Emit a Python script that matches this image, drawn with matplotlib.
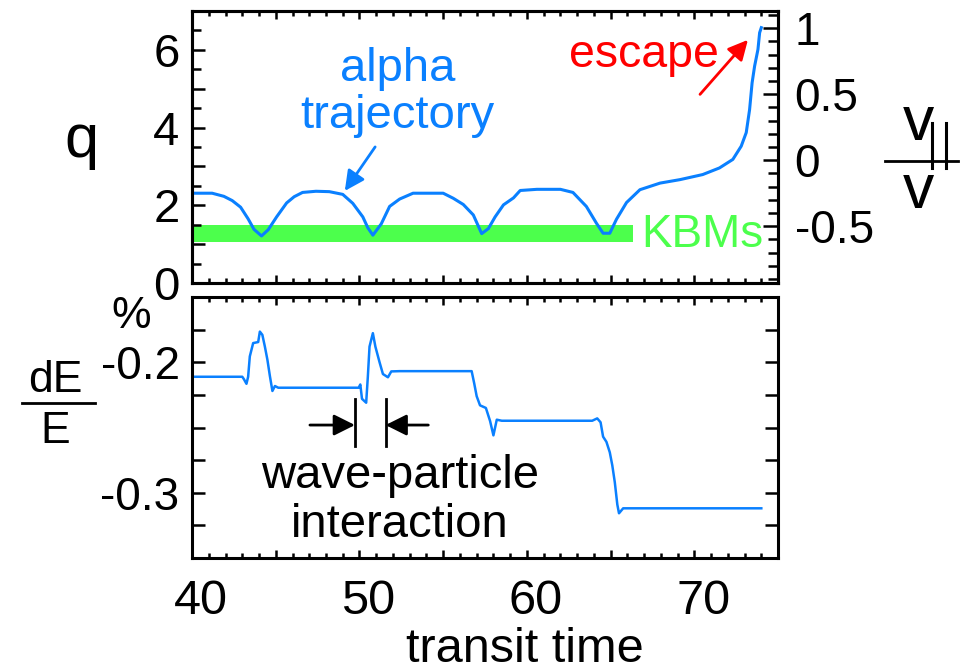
import matplotlib
matplotlib.use("Agg")
import matplotlib.pyplot as plt
from matplotlib.lines import Line2D
from matplotlib.ticker import FuncFormatter, MultipleLocator
from matplotlib.transforms import ScaledTranslation

plt.rcParams["font.family"] = ["Liberation Sans", "DejaVu Sans"]

# alpha trajectory (top panel): transit time vs q
traj_t = [40.0, 41.2, 41.9, 42.4, 42.9, 43.35, 43.7, 44.15, 44.55, 45.05, 45.65,
          46.1, 46.6, 47.4, 48.2, 49.0, 49.6, 50.2, 50.5, 50.8, 51.3, 51.8, 52.4,
          53.2, 55.0, 55.6, 56.2, 56.8, 57.3, 57.7, 58.1, 58.6, 59.2, 59.6, 60.6,
          62.0, 62.75, 63.55, 64.15, 64.55, 64.95, 65.35, 65.95, 66.75, 67.95,
          69.15, 70.5, 71.5, 72.3, 72.8, 73.1, 73.3, 73.45, 73.6, 73.8, 73.9, 74.0]
traj_q = [2.31, 2.31, 2.23, 2.12, 1.95, 1.65, 1.38, 1.21, 1.37, 1.70, 2.06,
          2.22, 2.33, 2.36, 2.35, 2.28, 2.05, 1.70, 1.42, 1.23, 1.52, 1.97, 2.16,
          2.31, 2.31, 2.18, 2.02, 1.75, 1.27, 1.40, 1.70, 2.01, 2.19, 2.38, 2.41,
          2.41, 2.33, 1.97, 1.54, 1.28, 1.28, 1.64, 2.07, 2.40, 2.57,
          2.66, 2.79, 2.96, 3.18, 3.52, 3.87, 4.46, 5.15, 5.58, 6.01, 6.44, 6.57]

# KBM band
kbm_t = [40.0, 66.35]
kbm_lo = 1.05
kbm_hi = 1.50

# energy change dE/E (%) (bottom panel)
de_t = [40.0, 43.0, 43.1, 43.25, 43.35, 43.45, 43.65, 43.95, 44.05, 44.2, 44.35,
        44.5, 44.65, 44.8, 44.95, 45.15, 49.95, 50.05, 50.15, 50.4, 50.5, 50.6,
        50.8, 50.95, 51.2, 51.4, 51.7, 51.9, 52.4, 56.7, 56.85, 57.0, 57.2, 57.55,
        57.8, 58.0, 58.2, 58.5, 63.9, 64.2, 64.4, 64.55, 64.75, 64.95, 65.1,
        65.25, 65.4, 65.5, 65.75, 74.0]
de_val = [-0.2111, -0.2111, -0.2130, -0.2165, -0.2111, -0.1955, -0.1853, -0.1845,
          -0.1765, -0.1790, -0.1880, -0.1980, -0.2106, -0.2220, -0.2182, -0.2195,
          -0.2195, -0.2170, -0.2280, -0.2310, -0.2110, -0.1880, -0.1777, -0.1880,
          -0.2000, -0.2090, -0.2115, -0.2070, -0.2068, -0.2068, -0.2160, -0.2260,
          -0.2330, -0.2350, -0.2450, -0.2560, -0.2440, -0.2448, -0.2448, -0.2430,
          -0.2460, -0.2570, -0.2610, -0.2690, -0.2790, -0.2920, -0.3090, -0.3157,
          -0.3119, -0.3119]

# wave-particle interaction markers
wpi_bars = [49.73, 51.56]
wpi_bar_y = (-0.2283, -0.2640)
wpi_arrow_y = -0.2481
wpi_tails = [47.04, 54.11]

blue = "#0a80ff"
green = "#4cff4c"

fig = plt.figure(figsize=(9.67, 6.72), dpi=100)
ax_q = fig.add_axes([0.1986, 0.5789, 0.606, 0.4048])
ax_e = fig.add_axes([0.1986, 0.1696, 0.606, 0.3884])


def style(ax):
    for s in ax.spines.values():
        s.set_linewidth(2.2)
    ax.set_xlim(40, 75)
    ax.xaxis.set_major_locator(MultipleLocator(5))
    ax.xaxis.set_minor_locator(MultipleLocator(1))
    ax.xaxis.set_major_formatter(FuncFormatter(lambda v, p: f"{v:.0f}" if round(v) % 10 == 0 else ""))
    ax.tick_params(axis="x", which="both", direction="in", top=True, bottom=True, width=1.8)
    ax.tick_params(axis="x", which="major", length=6)
    ax.tick_params(axis="x", which="minor", length=3.3)


# ---- top panel
style(ax_q)
ax_q.fill_between(kbm_t, kbm_lo, kbm_hi, color=green, lw=0, zorder=1)
ax_q.plot(traj_t, traj_q, color=blue, lw=2.2, zorder=3)
ax_q.set_ylim(0, 7)
ax_q.yaxis.set_major_locator(MultipleLocator(1))
ax_q.yaxis.set_minor_locator(MultipleLocator(0.5))
ax_q.yaxis.set_major_formatter(FuncFormatter(lambda v, p: f"{v:.0f}" if round(v) % 2 == 0 else ""))
ax_q.tick_params(axis="y", which="both", direction="in", left=True, right=False, width=1.8,
                 labelsize=34, pad=9)
ax_q.tick_params(axis="y", which="major", length=9.5)
ax_q.tick_params(axis="y", which="minor", length=6.5)
ax_q.tick_params(axis="x", labelbottom=False)

ax_r = ax_q.twinx()
ax_r.set_ylim(-0.93, 1.13)
ax_r.yaxis.set_major_locator(MultipleLocator(0.5))
ax_r.yaxis.set_minor_locator(MultipleLocator(0.1))
ax_r.yaxis.set_major_formatter(FuncFormatter(lambda v, p: f"{v:g}"))
ax_r.tick_params(axis="y", which="both", direction="in", width=1.8, labelsize=33, pad=12)
ax_r.tick_params(axis="y", which="major", length=11)
ax_r.tick_params(axis="y", which="minor", length=7)
for s in ax_r.spines.values():
    s.set_linewidth(2.2)

ax_q.text(52.27, 5.19, "alpha", color=blue, fontsize=34, ha="center", va="baseline")
ax_q.text(52.27, 3.99, "trajectory", color=blue, fontsize=34, ha="center", va="baseline")
ax_q.annotate("", xy=(49.03, 2.31), xytext=(51.03, 3.56),
              arrowprops=dict(arrowstyle="-|>", color=blue, lw=2, mutation_scale=30))
ax_q.text(66.99, 5.57, "escape", color="red", fontsize=33.5, ha="center", va="baseline")
ax_q.annotate("", xy=(73.31, 6.31), xytext=(70.23, 4.8),
              arrowprops=dict(arrowstyle="-|>", color="red", lw=2, mutation_scale=30))
ax_q.text(66.85, 0.93, "KBMs", color=green, fontsize=33, ha="left", va="baseline")

# ---- bottom panel
style(ax_e)
ax_e.plot(de_t, de_val, color=blue, lw=1.8)
ax_e.set_ylim(-0.35, -0.15)
ax_e.yaxis.set_major_locator(MultipleLocator(0.1))
ax_e.yaxis.set_minor_locator(MultipleLocator(0.025))
ax_e.yaxis.set_major_formatter(FuncFormatter(lambda v, p: f"{v:.1f}"))
ax_e.tick_params(axis="y", which="both", direction="in", left=True, right=True, width=1.8,
                 length=9.5, labelsize=33, pad=9)
ax_e.tick_params(axis="x", labelsize=35, pad=15)
off = ScaledTranslation(0.09, 0, fig.dpi_scale_trans)
for lab in ax_e.get_xticklabels():
    lab.set_transform(lab.get_transform() + off)

for xb in wpi_bars:
    ax_e.plot([xb, xb], wpi_bar_y, color="black", lw=2)
for xb, xt in zip(wpi_bars, wpi_tails):
    ax_e.annotate("", xy=(xb, wpi_arrow_y), xytext=(xt, wpi_arrow_y),
                  arrowprops=dict(arrowstyle="-|>", color="black", lw=2, mutation_scale=32,
                                  shrinkA=0, shrinkB=0))
ax_e.text(52.42, -0.2967, "wave-particle", fontsize=34, ha="center", va="baseline")
ax_e.text(52.42, -0.334, "interaction", fontsize=34, ha="center", va="baseline")

# ---- axis labels
fig.text(525 / 967, 1 - 662 / 672, "transit time", fontsize=35, ha="center", va="baseline")
fig.text(81 / 967, 1 - 157 / 672, "q", fontsize=44, ha="center", va="baseline")
fig.text(131 / 967, 1 - 328 / 672, "%", fontsize=32, ha="center", va="baseline")
fig.text(55 / 967, 1 - 392 / 672, "dE", fontsize=32, ha="center", va="baseline")
fig.text(55.5 / 967, 1 - 443 / 672, "E", fontsize=32, ha="center", va="baseline")
fig.add_artist(Line2D([22 / 967, 95 / 967], [1 - 403 / 672] * 2, color="black", lw=2))
fig.text(918 / 967, 1 - 140 / 672, "v", fontsize=45, ha="center", va="baseline")
fig.text(918 / 967, 1 - 208 / 672, "v", fontsize=45, ha="center", va="baseline")
fig.add_artist(Line2D([885 / 967, 958 / 967], [1 - 161 / 672] * 2, color="black", lw=2))
for xb in (931.7, 946):
    fig.add_artist(Line2D([xb / 967] * 2, [1 - 123 / 672, 1 - 168 / 672], color="black", lw=2.2))

fig.savefig("out.png", dpi=100)
